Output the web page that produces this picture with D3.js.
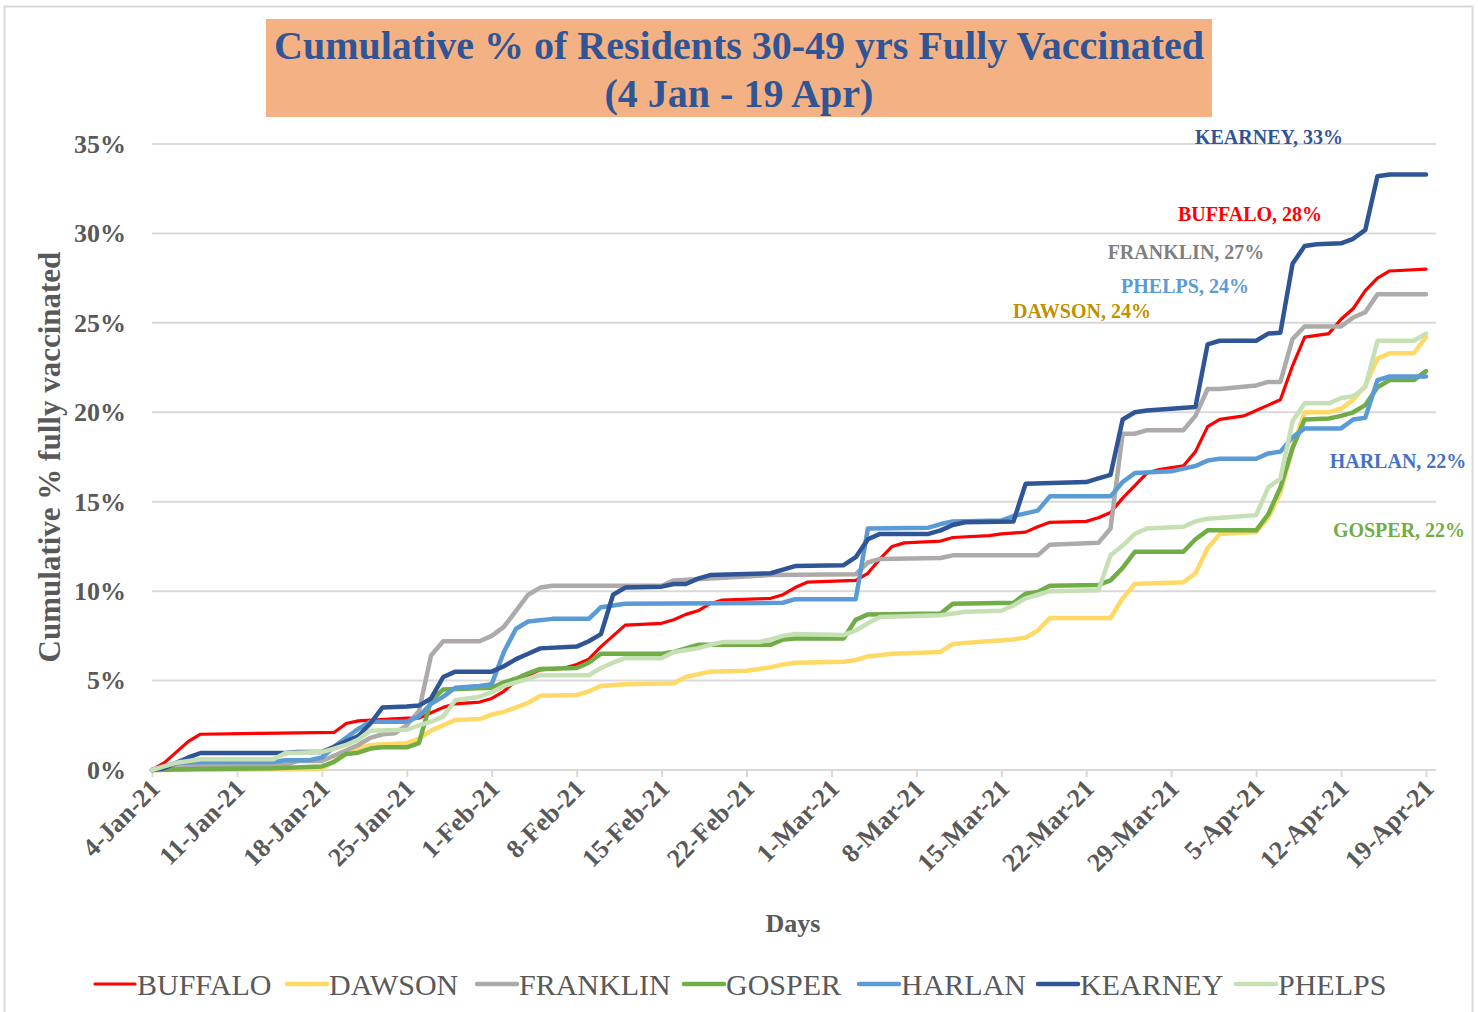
<!DOCTYPE html>
<html>
<head>
<meta charset="utf-8">
<script src="https://cdn.jsdelivr.net/npm/d3@7"></script>
<style>
  body { margin: 0; background: #fff; }
  svg { display: block; }
</style>
</head>
<body>
<svg id="chart"></svg>
<script>
// day offset from 4-Jan-21, cumulative % fully vaccinated
const startDate = new Date(2021, 0, 4);
const lastDay = 105;

const buffalo = [[0,0],[1,0.4],[2,1.0],[3,1.6],[4,2.0],[9,2.05],[15,2.1],[16,2.6],[17,2.75],[21,2.9],[22,2.9],[23,3.2],[24,3.5],[25,3.7],[27,3.8],[28,4.0],[29,4.4],[30,5.0],[31,5.3],[32,5.6],[34,5.7],[35,5.9],[36,6.2],[37,6.9],[38,7.5],[39,8.1],[42,8.2],[43,8.4],[44,8.7],[45,8.9],[46,9.3],[47,9.5],[51,9.6],[52,9.8],[53,10.2],[54,10.5],[58,10.6],[59,11.0],[60,11.8],[61,12.5],[62,12.7],[65,12.8],[66,13.0],[69,13.1],[70,13.2],[72,13.3],[73,13.6],[74,13.85],[77,13.9],[78,14.1],[79,14.4],[80,15.2],[81,15.9],[82,16.6],[83,16.8],[85,17.0],[86,17.8],[87,19.2],[88,19.6],[90,19.8],[91,20.1],[92,20.4],[93,20.7],[94,22.6],[95,24.2],[97,24.4],[98,25.2],[99,25.8],[100,26.8],[101,27.5],[102,27.9],[105,28.0]];

const dawson = [[0,0],[14,0.05],[15,0.5],[16,0.9],[17,1.2],[18,1.4],[21,1.5],[22,1.75],[23,2.2],[24,2.5],[25,2.8],[27,2.85],[28,3.1],[29,3.25],[30,3.5],[31,3.75],[32,4.15],[35,4.2],[36,4.4],[37,4.7],[39,4.8],[43,4.85],[44,5.2],[46,5.5],[49,5.55],[50,5.65],[51,5.75],[52,5.9],[53,6.0],[57,6.05],[58,6.15],[59,6.35],[61,6.5],[65,6.6],[66,7.05],[68,7.15],[71,7.3],[72,7.4],[73,7.8],[74,8.5],[79,8.5],[80,9.6],[81,10.4],[85,10.5],[86,11.0],[87,12.4],[88,13.2],[91,13.3],[92,14.1],[93,15.5],[94,18.0],[95,20.0],[97,20.0],[98,20.2],[99,20.7],[100,21.5],[101,23.0],[102,23.3],[104,23.3],[105,24.2]];

const franklin = [[0,0],[3,0.3],[11,0.3],[12,0.5],[14,0.5],[15,0.8],[17,1.4],[18,1.8],[19,2.0],[20,2.05],[21,2.5],[22,3.3],[23,6.4],[24,7.2],[27,7.2],[28,7.5],[29,8.0],[30,8.9],[31,9.8],[32,10.2],[33,10.3],[42,10.3],[43,10.6],[51,10.9],[58,10.95],[59,11.6],[60,11.8],[65,11.85],[66,12.0],[73,12.0],[74,12.6],[78,12.7],[79,13.5],[80,18.8],[81,18.8],[82,19.0],[85,19.0],[86,19.8],[87,21.3],[88,21.3],[91,21.5],[92,21.7],[93,21.7],[94,24.1],[95,24.8],[98,24.8],[99,25.3],[100,25.6],[101,26.6],[105,26.6]];

const gosper = [[0,0],[4,0.05],[10,0.1],[14,0.2],[15,0.45],[16,0.9],[17,0.97],[18,1.2],[19,1.27],[21,1.27],[22,1.5],[23,3.9],[24,4.5],[28,4.6],[29,4.9],[30,5.1],[31,5.4],[32,5.65],[35,5.7],[36,6.0],[37,6.5],[42,6.5],[43,6.6],[44,6.8],[45,7.0],[51,7.0],[52,7.3],[53,7.35],[57,7.35],[58,8.4],[59,8.7],[65,8.75],[66,9.3],[71,9.35],[72,9.85],[73,9.95],[74,10.3],[78,10.35],[79,10.6],[80,11.3],[81,12.2],[85,12.2],[86,12.9],[87,13.4],[91,13.4],[92,14.3],[93,15.8],[94,18.0],[95,19.6],[97,19.65],[98,19.8],[99,20.0],[100,20.4],[101,21.4],[102,21.8],[104,21.8],[105,22.3]];

const harlan = [[0,0],[1,0.2],[2,0.4],[4,0.45],[10,0.45],[11,0.55],[13,0.55],[14,0.7],[15,1.3],[16,1.8],[17,2.3],[18,2.7],[21,2.7],[22,3.0],[23,3.7],[24,4.1],[25,4.6],[27,4.7],[28,4.8],[29,6.6],[30,7.9],[31,8.3],[33,8.45],[36,8.45],[37,9.1],[39,9.3],[52,9.35],[53,9.55],[58,9.55],[59,13.5],[64,13.55],[65,13.75],[66,13.9],[70,13.95],[71,14.2],[73,14.5],[74,15.3],[79,15.3],[80,16.1],[81,16.6],[84,16.7],[85,16.85],[86,17.0],[87,17.3],[88,17.4],[91,17.4],[92,17.7],[93,17.8],[94,18.6],[95,19.1],[98,19.1],[99,19.6],[100,19.7],[101,21.8],[102,22.0],[105,22.0]];

const kearney = [[0,0],[1,0.1],[2,0.4],[3,0.7],[4,0.95],[11,0.95],[12,1.0],[14,1.0],[15,1.3],[16,1.6],[17,1.9],[18,2.6],[19,3.5],[21,3.55],[22,3.6],[23,4.0],[24,5.2],[25,5.5],[28,5.5],[29,5.8],[30,6.2],[31,6.5],[32,6.8],[35,6.9],[36,7.2],[37,7.6],[38,9.8],[39,10.2],[42,10.25],[43,10.4],[44,10.4],[45,10.7],[46,10.9],[51,11.0],[52,11.2],[53,11.4],[57,11.45],[58,11.9],[59,12.9],[60,13.2],[64,13.2],[65,13.4],[66,13.7],[67,13.85],[71,13.9],[72,16.0],[77,16.1],[78,16.3],[79,16.5],[80,19.6],[81,20.0],[82,20.1],[84,20.2],[86,20.3],[87,23.8],[88,24.0],[91,24.0],[92,24.4],[93,24.45],[94,28.3],[95,29.3],[96,29.4],[98,29.45],[99,29.7],[100,30.2],[101,33.2],[102,33.3],[105,33.3]];

const phelps = [[0,0],[1,0.2],[2,0.4],[4,0.6],[10,0.6],[11,0.95],[14,1.0],[15,1.2],[16,1.4],[17,1.7],[18,2.2],[21,2.25],[22,2.5],[23,2.7],[24,3.0],[25,3.9],[27,4.1],[28,4.35],[29,4.7],[30,4.9],[31,5.1],[32,5.3],[36,5.3],[37,5.7],[38,6.0],[39,6.25],[42,6.25],[43,6.6],[45,6.8],[46,7.0],[47,7.15],[50,7.15],[51,7.3],[52,7.5],[53,7.6],[57,7.55],[58,7.8],[59,8.2],[60,8.55],[65,8.65],[66,8.75],[67,8.85],[70,8.9],[71,9.2],[72,9.6],[73,9.8],[74,10.0],[78,10.05],[79,12.0],[80,12.55],[81,13.2],[82,13.5],[85,13.6],[86,13.9],[87,14.05],[89,14.15],[91,14.25],[92,15.8],[93,16.3],[94,19.5],[95,20.5],[97,20.5],[98,20.8],[99,20.9],[100,21.4],[101,24.0],[104,24.0],[105,24.4]];

const seriesNames = ['BUFFALO', 'DAWSON', 'FRANKLIN', 'GOSPER', 'HARLAN', 'KEARNEY', 'PHELPS'];
const seriesData = [buffalo, dawson, franklin, gosper, harlan, kearney, phelps];
const seriesColors = ['#FF0000', '#FFD966', '#AEAAAA', '#70AD47', '#5B9BD5', '#2F5597', '#C5E0B4'];
const yTicks = [0, 5, 10, 15, 20, 25, 30, 35];

// end-of-line labels as they appear on the chart
const endLabels = [
    { text: 'KEARNEY, 33%', color: '#2F5597', x: 1269, y: 137 },
    { text: 'BUFFALO, 28%', color: '#FF0000', x: 1250, y: 214 },
    { text: 'FRANKLIN, 27%', color: '#7F7F7F', x: 1186, y: 252 },
    { text: 'PHELPS, 24%', color: '#5B9BD5', x: 1185, y: 286 },
    { text: 'DAWSON, 24%', color: '#BF9000', x: 1082, y: 311 },
    { text: 'HARLAN, 22%', color: '#4472C4', x: 1398, y: 461 },
    { text: 'GOSPER, 22%', color: '#70AD47', x: 1399, y: 530 }
];

const W = 1478, H = 1012;
const serif = '"Liberation Serif", "DejaVu Serif", serif';
const axisGrey = '#595959';

const svg = d3.select('#chart').attr('width', W).attr('height', H);

// chart frame
svg.append('rect')
    .attr('x', 4.5).attr('y', 6.5).attr('width', 1468).attr('height', 1020)
    .attr('fill', '#fff').attr('stroke', '#D9D9D9').attr('stroke-width', 2);

// Title box
svg.append('rect')
    .attr('x', 266).attr('y', 19).attr('width', 946).attr('height', 98)
    .attr('fill', '#F4B183');
svg.append('text')
    .attr('x', 739).attr('y', 59)
    .attr('text-anchor', 'middle')
    .attr('font-family', serif).attr('font-size', '40px').attr('font-weight', 'bold').attr('fill', '#2F5597')
    .text('Cumulative % of Residents 30-49 yrs Fully Vaccinated');
svg.append('text')
    .attr('x', 739).attr('y', 107)
    .attr('text-anchor', 'middle')
    .attr('font-family', serif).attr('font-size', '40px').attr('font-weight', 'bold').attr('fill', '#2F5597')
    .text('(4 Jan - 19 Apr)');

const x = d3.scaleTime()
    .domain([startDate, d3.timeDay.offset(startDate, lastDay)])
    .range([152, 1426]);
const y = d3.scaleLinear().domain([0, 35]).range([770, 144]);

// Grid
svg.append('g')
    .selectAll('line')
    .data(yTicks.filter(d => d > 0))
    .enter().append('line')
    .attr('x1', 152).attr('x2', 1436)
    .attr('y1', d => y(d)).attr('y2', d => y(d))
    .attr('stroke', '#D9D9D9').attr('stroke-width', 2);

// X axis
const xAxis = svg.append('g')
    .attr('transform', `translate(0,${y(0)})`)
    .call(d3.axisBottom(x)
        .ticks(d3.timeMonday.every(1))
        .tickSize(7)
        .tickFormat(d3.timeFormat('%-d-%b-%y')));
xAxis.select('.domain').attr('stroke', '#D9D9D9').attr('stroke-width', 2)
    .attr('d', `M152,0H1436`);
xAxis.selectAll('.tick line').attr('stroke', '#D9D9D9').attr('stroke-width', 2);
xAxis.selectAll('.tick text')
    .attr('font-family', serif).attr('font-size', '26px').attr('font-weight', 'bold').attr('fill', axisGrey)
    .attr('text-anchor', 'end')
    .attr('dy', null)
    .attr('y', 0)
    .attr('transform', 'translate(9,20) rotate(-45)');

// Y axis
const yAxis = svg.append('g')
    .attr('transform', 'translate(126,0)')
    .call(d3.axisLeft(y).tickValues(yTicks).tickSize(0).tickPadding(0).tickFormat(d => d + '%'));
yAxis.select('.domain').remove();
yAxis.selectAll('.tick text')
    .attr('font-family', serif).attr('font-size', '26px').attr('font-weight', 'bold').attr('fill', axisGrey);

// Axis titles
svg.append('text')
    .attr('transform', 'translate(60,457) rotate(-90)')
    .attr('text-anchor', 'middle')
    .attr('font-family', serif).attr('font-size', '31px').attr('font-weight', 'bold').attr('fill', axisGrey)
    .text('Cumulative % fully vaccinated');
svg.append('text')
    .attr('x', 793).attr('y', 932)
    .attr('text-anchor', 'middle')
    .attr('font-family', serif).attr('font-size', '26px').attr('font-weight', 'bold').attr('fill', axisGrey)
    .text('Days');

// Lines
const line = d3.line()
    .x(d => x(d3.timeDay.offset(startDate, d[0])))
    .y(d => y(d[1]));

svg.append('g')
    .selectAll('path')
    .data(seriesData)
    .enter().append('path')
    .attr('fill', 'none')
    .attr('stroke', (d, i) => seriesColors[i])
    .attr('stroke-width', (d, i) => i === 0 ? 3.2 : 4.5)
    .attr('stroke-linejoin', 'round')
    .attr('stroke-linecap', 'round')
    .attr('d', line);

// End labels
svg.append('g')
    .selectAll('text')
    .data(endLabels)
    .enter().append('text')
    .attr('x', d => d.x).attr('y', d => d.y)
    .attr('dy', '0.35em')
    .attr('text-anchor', 'middle')
    .attr('font-family', serif).attr('font-size', '20px').attr('font-weight', 'bold')
    .attr('fill', d => d.color)
    .text(d => d.text);

// Legend
const legendX = [95, 287, 477, 684, 859, 1038, 1236];
const legend = svg.append('g')
    .selectAll('g')
    .data(seriesNames)
    .enter().append('g')
    .attr('transform', (d, i) => `translate(${legendX[i]},984)`);
legend.append('line')
    .attr('x1', 0).attr('x2', 40).attr('y1', 0).attr('y2', 0)
    .attr('stroke', (d, i) => seriesColors[i])
    .attr('stroke-width', (d, i) => i === 0 ? 3.2 : 4.5)
    .attr('stroke-linecap', 'round');
legend.append('text')
    .attr('x', 42).attr('y', 0).attr('dy', '0.36em')
    .attr('font-family', serif).attr('font-size', '30px').attr('fill', axisGrey)
    .text(d => d);
</script>
</body>
</html>
